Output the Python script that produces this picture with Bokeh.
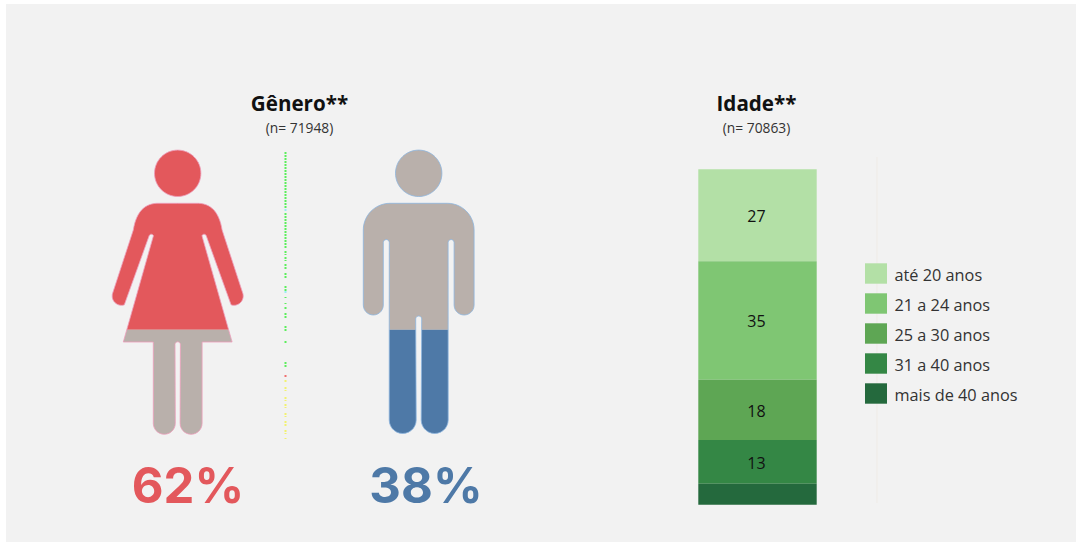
import math
from bokeh.embed import file_html
from bokeh.resources import INLINE
from bokeh.models import Range1d
from bokeh.plotting import figure
from bokeh.core.properties import value

# ---- data ----
gender_labels = ["Feminino", "Masculino"]
gender_pct = [62, 38]
gender_title = "Gênero**"
gender_n = "(n= 71948)"
age_title = "Idade**"
age_n = "(n= 70863)"
age_labels = ["até 20 anos", "21 a 24 anos", "25 a 30 anos", "31 a 40 anos", "mais de 40 anos"]
age_values = [27.4, 35.3, 18.0, 13.0, 6.3]
age_text = ["27", "35", "18", "13", ""]
age_colors = ["#b3e0a6", "#7fc673", "#5ea654", "#348745", "#24693d"]

RED, GRAY, BLUE = "#e3585c", "#b9b0ab", "#4e79a7"
BG = "#f2f2f2"
FONT = value("Open Sans")

X0, X1, Y0, Y1 = 8.5, 1068.5, 534.5, 8.5
p = figure(width=1060, height=526, x_range=Range1d(X0, X1), y_range=Range1d(Y0, Y1),
           x_axis_type=None, y_axis_type=None, toolbar_location=None,
           output_backend="svg", min_border=0, background_fill_color=BG,
           border_fill_color=BG, outline_line_color=None)
p.grid.visible = False

# percent scale of the stacked bar: 100 at pixel row 169.3, 0 at 504.8
unit = (504.8 - 169.3) / 100
p.extra_y_ranges["stack"] = Range1d(start=(504.8 - Y0) / unit, end=(504.8 - Y1) / unit)


def arc(cx, cy, r, a0, a1, n=14):
    return [(cx + r * math.cos(math.radians(a0 + (a1 - a0) * i / n)),
             cy + r * math.sin(math.radians(a0 + (a1 - a0) * i / n))) for i in range(n + 1)]


def bez(a, c, b, n=14):
    out = []
    for i in range(n + 1):
        t = i / n
        out.append(((1 - t) ** 2 * a[0] + 2 * t * (1 - t) * c[0] + t * t * b[0],
                    (1 - t) ** 2 * a[1] + 2 * t * (1 - t) * c[1] + t * t * b[1]))
    return out


def clip(poly, ycut, keep_above):
    out = []
    for i, (x0, y0) in enumerate(poly):
        x1, y1 = poly[(i + 1) % len(poly)]
        in0 = y0 <= ycut if keep_above else y0 >= ycut
        in1 = y1 <= ycut if keep_above else y1 >= ycut
        if in0:
            out.append((x0, y0))
        if in0 != in1:
            t = (ycut - y0) / (y1 - y0)
            out.append((x0 + t * (x1 - x0), ycut))
    return out


# woman outline, left half
wc = 177.7
woman_half = [(wc, 203.3)]
woman_half += bez((157, 203.3), (137.5, 204), (133.3, 230))
woman_half += arc(121.5, 296, 9.3, 197.5, 72.5)
woman_half += arc(151.3, 236.5, 2.3, 200, 340, 6)
woman_half += [(123.3, 342), (153.3, 342)]
woman_half += arc(164.3, 423.3, 11, 180, 0)
woman_half += arc(wc, 344.5, 2.7, 180, 270, 5)
woman = woman_half + [(2 * wc - x, y) for x, y in reversed(woman_half[:-1])]

# man outline, left half
mc = 418.7
man_half = [(mc, 203.3)]
man_half += arc(390, 230, 26.7, 270, 180)
man_half += arc(373.3, 305, 10, 180, 0)
man_half += arc(386.3, 242.5, 3, 180, 360, 6)
man_half += arc(402.7, 420, 13.5, 180, 0)
man_half += arc(mc, 319, 3, 180, 270, 5)
man = man_half + [(2 * mc - x, y) for x, y in reversed(man_half[:-1])]

# the shared pictogram scale: 100 % is row 150, 0 % row 440
ycut_w = 150 + gender_pct[0] * 2.9
ycut_m = 440 - gender_pct[1] * 2.9

for poly, ycut, top, low, edge, head, cx in [
    (woman, ycut_w, RED, GRAY, "#ee9fbc", RED, wc),
    (man, ycut_m, GRAY, BLUE, "#8db5de", GRAY, mc),
]:
    a = clip(poly, ycut, True)
    b = clip(poly, ycut, False)
    p.patch([q[0] for q in a], [q[1] for q in a], fill_color=top, line_color=None)
    p.patch([q[0] for q in b], [q[1] for q in b], fill_color=low, line_color=None)
    xs = [q[0] for q in poly] + [poly[0][0]]
    ys = [q[1] for q in poly] + [poly[0][1]]
    p.line(xs, ys, line_color=edge, line_width=1, line_alpha=0.8)
    c = arc(cx, 173.3, 23.2, 0, 360, 64)
    p.patch([q[0] for q in c], [q[1] for q in c], fill_color=head, line_color=edge,
            line_width=1, line_alpha=0.8)

# dotted divider
G, C, R, Y = "#5cee5c", "#98ecf4", "#f07070", "#f2f270"
dots = [
    (152, 208, G), (209, 211, C), (213, 248, G), (251, 255, G),
    (257, 261, G), (264, 270, G), (273, 279, G), (286, 291, G),
    (291, 293, C), (297, 298, G), (303, 304, G), (307, 310, G),
    (313, 319, G), (326, 332, G), (341, 343, G), (362, 368, G),
    (375, 377, R), (380, 383, Y), (387, 391, Y), (397, 401, Y),
    (404, 408, Y), (413, 417, Y), (421, 427, Y), (430, 434, Y),
    (438, 439, Y),
]
p.segment([285.5] * len(dots), [d[0] for d in dots], [285.5] * len(dots), [d[1] for d in dots],
          line_color=[d[2] for d in dots], line_width=2, line_dash="2 1", line_alpha=1)

# faint reference line of the age panel
p.segment([877], [157], [877], [503], line_color="#efebe6", line_width=1)

# titles
for x, t, n in [(299.5, gender_title, gender_n), (756.5, age_title, age_n)]:
    p.text([x], [102.5], text=[t], text_font=FONT, text_font_style="bold", text_font_size="20.6px",
           text_align="center", text_baseline="middle", text_color="#111111")
    p.text([x], [127.5], text=[n], text_font=FONT, text_font_size="13.8px",
           text_align="center", text_baseline="middle", text_color="#333333")

# percentages
for x, v, col in [(188, gender_pct[0], RED), (426, gender_pct[1], BLUE)]:
    p.text([x], [485.5], text=[f"{v}%"], text_font=value("Inter"), text_font_style="bold",
           text_font_size="49px", text_align="center", text_baseline="middle", text_color=col)

# stacked bar
tops, bottoms, acc = [], [], 100.0
for v in age_values:
    tops.append(acc)
    acc -= v
    bottoms.append(acc)
p.vbar(x=[757.5] * len(age_values), width=118.4, top=tops, bottom=bottoms, fill_color=age_colors,
       line_color=None, y_range_name="stack")
p.text(x=[756.5] * len(age_values), y=[(a + b) / 2 for a, b in zip(tops, bottoms)], text=age_text,
       text_font=FONT, text_font_size="16px", text_align="center", text_baseline="middle",
       text_color="#111111", y_range_name="stack", y_offset=1)

# legend
for i, (lab, col) in enumerate(zip(age_labels, age_colors)):
    y0 = 263.3 + i * 30
    p.quad(left=[865], right=[887], top=[y0], bottom=[y0 + 20.4], fill_color=col, line_color=None)
    p.text([894.5], [y0 + 11.5], text=[lab], text_font=FONT, text_font_size="16.3px",
           text_baseline="middle", text_color="#333333")

html = file_html(p, INLINE)
style = ("<style>html{background:#fff;overflow:hidden}"
         f"body{{position:absolute;left:6px;top:4px;right:0;bottom:0;margin:0;padding:4px 0 0 2px;background:{BG}}}"
         "</style>")
html = html.replace("</head>", style + "</head>", 1)
open("out.html", "w").write(html)
